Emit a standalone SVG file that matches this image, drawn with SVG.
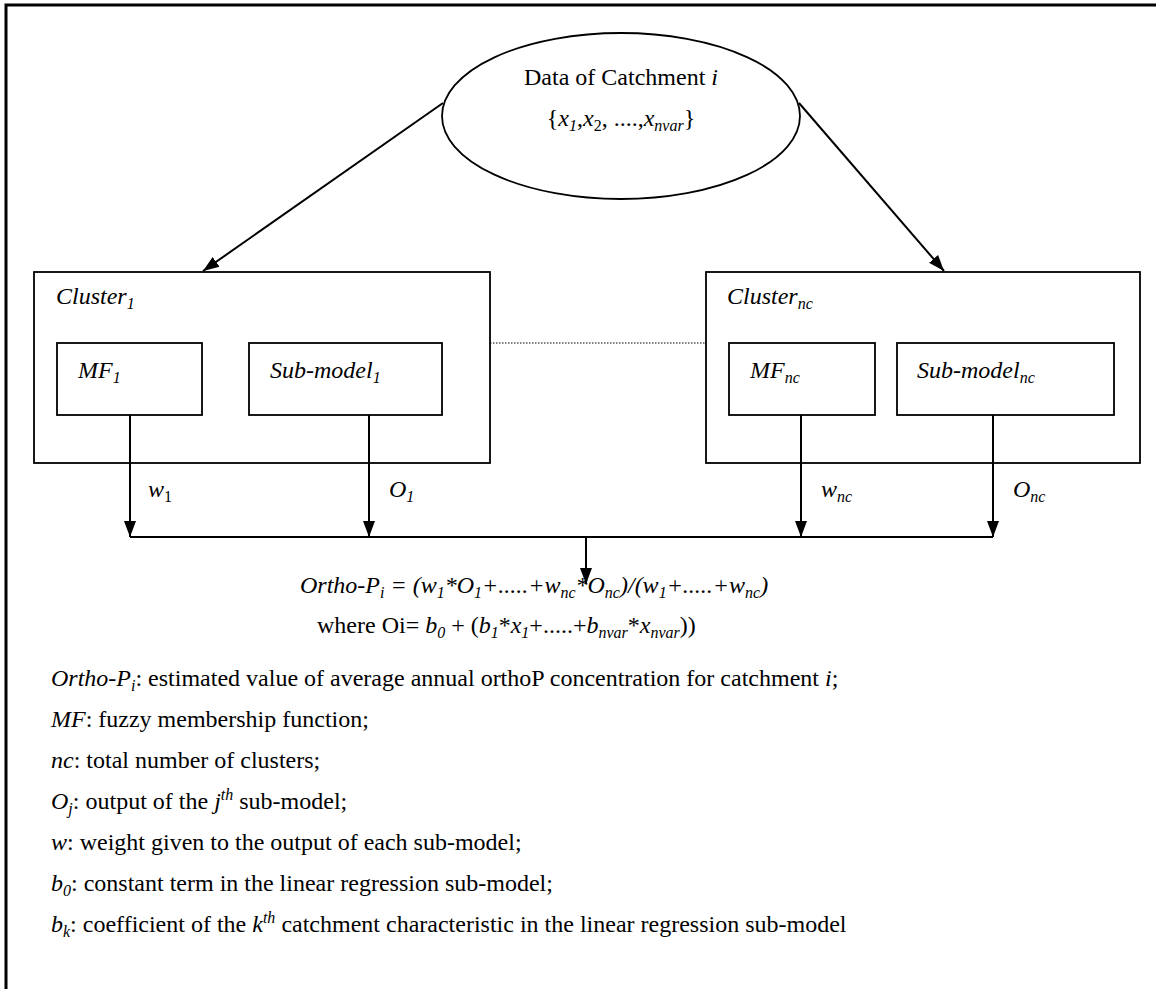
<svg xmlns="http://www.w3.org/2000/svg" width="1156" height="989" viewBox="0 0 1156 989">
<style>
text{font-family:"Liberation Serif","Times New Roman",serif;font-size:24px;fill:#000}
.i{font-style:italic}
.s{font-size:16px}
.box{fill:#fff;stroke:#000;stroke-width:1.8}
.ln{stroke:#000;stroke-width:2;fill:none}
</style>
<defs>
<marker id="ah" markerUnits="userSpaceOnUse" markerWidth="16" markerHeight="14" viewBox="0 0 16 14" refX="16" refY="7" orient="auto">
<path d="M0,1 L16,7 L0,13 z" fill="#000"/>
</marker>
</defs>
<rect width="1156" height="989" fill="#fff"/>
<path d="M6,989 V5 H1156" fill="none" stroke="#000" stroke-width="3"/>

<g id="catchment">
<ellipse cx="621" cy="116" rx="179" ry="83" fill="#fff" stroke="#000" stroke-width="1.8"/>
<text x="621" y="85" text-anchor="middle">Data of Catchment <tspan class="i">i</tspan></text>
<text x="621" y="126" text-anchor="middle">{<tspan class="i">x</tspan><tspan class="i s" dy="5">1</tspan><tspan dy="-5">,</tspan><tspan class="i">x</tspan><tspan class="s" dy="5">2</tspan><tspan dy="-5">, ....,</tspan><tspan class="i">x</tspan><tspan class="i s" dy="5">nvar</tspan><tspan dy="-5">}</tspan></text>
</g>

<g id="cluster1">
<rect class="box" x="34" y="272" width="456" height="191"/>
<text x="56" y="304" class="i">Cluster<tspan class="s" dy="5">1</tspan></text>
</g>
<g id="mf1">
<rect class="box" x="57" y="343" width="145" height="72"/>
<text x="78" y="378" class="i">MF<tspan class="s" dy="5">1</tspan></text>
</g>
<g id="submodel1">
<rect class="box" x="249" y="343" width="193" height="72"/>
<text x="270" y="378" class="i">Sub-model<tspan class="s" dy="5">1</tspan></text>
</g>

<g id="clusternc">
<rect class="box" x="706" y="272" width="434" height="191"/>
<text x="727" y="304" class="i">Cluster<tspan class="s" dy="5">nc</tspan></text>
</g>
<g id="mfnc">
<rect class="box" x="729" y="343" width="146" height="72"/>
<text x="750" y="378" class="i">MF<tspan class="s" dy="5">nc</tspan></text>
</g>
<g id="submodelnc">
<rect class="box" x="897" y="343" width="217" height="72"/>
<text x="917" y="378" class="i">Sub-model<tspan class="s" dy="5">nc</tspan></text>
</g>

<g id="connectors">
<line class="ln" x1="443" y1="103" x2="203" y2="271" marker-end="url(#ah)"/>
<line class="ln" x1="799" y1="103" x2="944" y2="271" marker-end="url(#ah)"/>
<line x1="490" y1="343" x2="706" y2="343" stroke="#000" stroke-width="1.2" stroke-dasharray="1.5,1.5"/>
<line class="ln" x1="130" y1="415" x2="130" y2="537" marker-end="url(#ah)"/>
<line class="ln" x1="369" y1="415" x2="369" y2="537" marker-end="url(#ah)"/>
<line class="ln" x1="801" y1="415" x2="801" y2="537" marker-end="url(#ah)"/>
<line class="ln" x1="993" y1="415" x2="993" y2="537" marker-end="url(#ah)"/>
<line class="ln" x1="130" y1="537" x2="993" y2="537"/>
<line class="ln" x1="586" y1="537" x2="586" y2="584" marker-end="url(#ah)"/>
</g>

<g id="labels">
<text x="148" y="497"><tspan class="i">w</tspan><tspan class="s" dy="5">1</tspan></text>
<text x="389" y="497" class="i">O<tspan class="s" dy="5">1</tspan></text>
<text x="821" y="497" class="i">w<tspan class="s" dy="5">nc</tspan></text>
<text x="1013" y="497" class="i">O<tspan class="s" dy="5">nc</tspan></text>
</g>

<g id="formula">
<text x="300" y="593" class="i">Ortho-P<tspan class="s" dy="5">i</tspan><tspan dy="-5"> = (w</tspan><tspan class="s" dy="5">1</tspan><tspan dy="-5">*O</tspan><tspan class="s" dy="5">1</tspan><tspan dy="-5">+.....+w</tspan><tspan class="s" dy="5">nc</tspan><tspan dy="-5">*O</tspan><tspan class="s" dy="5">nc</tspan><tspan dy="-5">)/(w</tspan><tspan class="s" dy="5">1</tspan><tspan dy="-5">+.....+w</tspan><tspan class="s" dy="5">nc</tspan><tspan dy="-5">)</tspan></text>
<text x="317" y="633">where Oi= <tspan class="i">b</tspan><tspan class="i s" dy="5">0</tspan><tspan dy="-5"> + (</tspan><tspan class="i">b</tspan><tspan class="i s" dy="5">1</tspan><tspan dy="-5">*</tspan><tspan class="i">x</tspan><tspan class="i s" dy="5">1</tspan><tspan dy="-5">+.....+</tspan><tspan class="i">b</tspan><tspan class="i s" dy="5">nvar</tspan><tspan dy="-5">*</tspan><tspan class="i">x</tspan><tspan class="i s" dy="5">nvar</tspan><tspan dy="-5">))</tspan></text>
</g>

<g id="legend">
<text x="51" y="686"><tspan class="i">Ortho-P</tspan><tspan class="i s" dy="5">i</tspan><tspan dy="-5">: estimated value of average annual orthoP concentration for catchment </tspan><tspan class="i">i</tspan>;</text>
<text x="51" y="727"><tspan class="i">MF</tspan>: fuzzy membership function;</text>
<text x="51" y="768"><tspan class="i">nc</tspan>: total number of clusters;</text>
<text x="51" y="809"><tspan class="i">O</tspan><tspan class="i s" dy="5">j</tspan><tspan dy="-5">: output of the </tspan><tspan class="i">j</tspan><tspan class="i s" dy="-9">th</tspan><tspan dy="9"> sub-model;</tspan></text>
<text x="51" y="850"><tspan class="i">w</tspan>: weight given to the output of each sub-model;</text>
<text x="51" y="891"><tspan class="i">b</tspan><tspan class="i s" dy="5">0</tspan><tspan dy="-5">: constant term in the linear regression sub-model;</tspan></text>
<text x="51" y="932"><tspan class="i">b</tspan><tspan class="i s" dy="5">k</tspan><tspan dy="-5">: coefficient of the </tspan><tspan class="i">k</tspan><tspan class="i s" dy="-9">th</tspan><tspan dy="9"> catchment characteristic in the linear regression sub-model</tspan></text>
</g>
</svg>
